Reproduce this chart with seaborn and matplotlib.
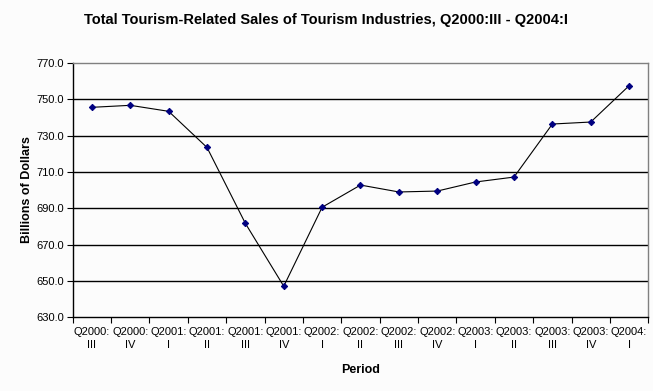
import matplotlib
matplotlib.use("Agg")
import matplotlib.pyplot as plt
import seaborn as sns
import numpy as np
import pandas as pd

periods = ["Q2000:\nIII", "Q2000:\nIV", "Q2001:\nI", "Q2001:\nII", "Q2001:\nIII",
           "Q2001:\nIV", "Q2002:\nI", "Q2002:\nII", "Q2002:\nIII", "Q2002:\nIV",
           "Q2003:\nI", "Q2003:\nII", "Q2003:\nIII", "Q2003:\nIV", "Q2004:\nI"]
sales = [745.6, 746.7, 743.4, 723.5, 681.7, 647.1, 690.6, 702.8, 699.0, 699.5,
         704.5, 707.2, 736.4, 737.5, 757.5]
yticks = [630, 650, 670, 690, 710, 730, 750, 770]

sns.set_theme(style="white")
plt.rcParams['font.family'] = ['Liberation Sans', 'DejaVu Sans']
plt.rcParams['text.color'] = 'black'
plt.rcParams['xtick.color'] = 'black'
plt.rcParams['ytick.color'] = 'black'

df = pd.DataFrame({"pos": np.arange(len(periods)), "sales": sales})

fig = plt.figure(figsize=(6.53, 3.91), dpi=100, facecolor="#fcfcfc")
ax = fig.add_axes([72.7/653, 1 - 317.3/391, (648.3-72.7)/653, (317.3-63)/391])
ax.set_facecolor("#fcfcfc")

sns.lineplot(data=df, x="pos", y="sales", ax=ax, color="black", linewidth=0.8,
             marker="D", markersize=3.2, markerfacecolor="#000080",
             markeredgecolor="#000080", zorder=3)

ax.set_xlim(-0.5, len(periods) - 0.5)
ax.set_ylim(630, 770)
ax.set_yticks(yticks)
ax.set_yticklabels([f"{v:.1f}" for v in yticks], fontsize=8, color="black")
for v in yticks[1:-1]:
    ax.axhline(v, color="black", linewidth=1.0, zorder=1)

ax.set_xticks(np.arange(len(periods)))
ax.set_xticklabels(periods, fontsize=8, linespacing=1.4, color="black")
ax.set_xticks(np.arange(len(periods) + 1) - 0.5, minor=True)
ax.tick_params(axis="x", which="major", length=0, pad=7)
ax.tick_params(axis="x", which="minor", length=4, width=0.8, color="black", direction="out", bottom=True)
ax.tick_params(axis="y", which="major", length=4, width=0.8, color="black", direction="out", left=True, pad=2)

for s in ["left", "bottom"]:
    ax.spines[s].set_color("black")
    ax.spines[s].set_linewidth(1.0)
for s in ["top", "right"]:
    ax.spines[s].set_color("#808080")
    ax.spines[s].set_linewidth(1.0)
    ax.spines[s].set_visible(True)

ax.set_xlabel("")
ax.set_ylabel("")
fig.text(27/653, 1 - 190/391, "Billions of Dollars", rotation=90, ha="center", va="center",
         fontsize=9, fontweight="bold", color="black")
fig.text(360.5/653, 1 - 370/391, "Period", ha="center", va="center", fontsize=9,
         fontweight="bold", color="black")
fig.text(0.5, 1 - 20/391, "Total Tourism-Related Sales of Tourism Industries, Q2000:III - Q2004:I",
         ha="center", va="center", fontsize=10.5, fontweight="bold", color="black")

fig.savefig("out.png", dpi=100, facecolor=fig.get_facecolor())
